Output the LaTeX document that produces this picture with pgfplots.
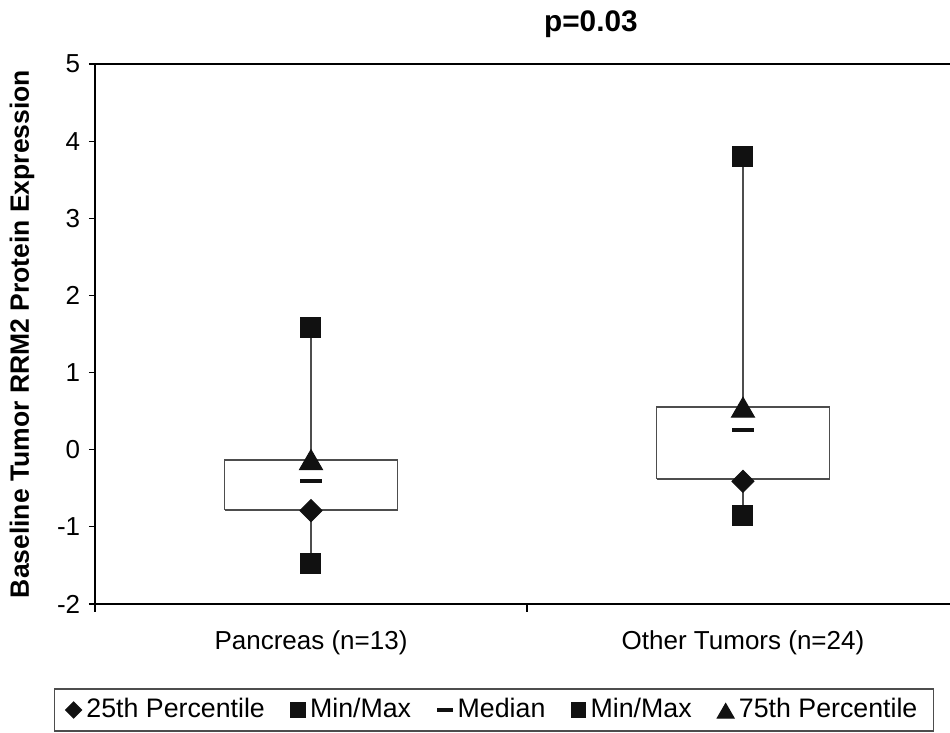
\documentclass[border=0pt]{standalone}
\usepackage{pgfplots}
\pgfplotsset{compat=1.18}
\usepackage{fontspec}
\setmainfont{Liberation Sans}
\definecolor{mk}{HTML}{111111}
\definecolor{boxc}{HTML}{4D4D4D}
\newcommand{\chartfont}{\fontsize{10.4}{12.5}\selectfont}
\begin{document}
\begin{tikzpicture}
\useasboundingbox (0,0) rectangle (380pt,293.2pt);
\begin{axis}[
 at={(38pt,51.6pt)}, anchor=south west,
 scale only axis, width=342pt, height=216pt,
 xmin=0, xmax=1.9792, ymin=-2, ymax=5,
 axis x line*=box, axis y line*=left,
 axis line style={line width=0.8pt, black},
 xtick={0.5,1.5}, xticklabels={Pancreas (n=13),Other Tumors (n=24)},
 minor xtick={0,1},
 major x tick style={draw=none},
 minor x tick style={line width=0.5pt, black},
 ytick={-2,-1,0,1,2,3,4,5},
 ytick style={line width=0.5pt, black},
 xtick pos=bottom, ytick pos=left,
 tick align=outside,
 major tick length=2.4pt, minor tick length=3.2pt,
 tick label style={font=\chartfont},
 /pgf/number format/assume math mode=true,
 xticklabel style={yshift=-4.8pt},
 ylabel={Baseline Tumor RRM2 Protein Expression},
 ylabel style={font=\fontsize{10.6}{12.5}\selectfont\bfseries, at={(axis description cs:-0.0854,0.5)}, anchor=center},
 title={p=0.03},
 every axis title shift=0pt,
 title style={font=\fontsize{11.9}{14}\selectfont\bfseries, at={(axis description cs:0.580,1.0593)}, anchor=base, yshift=0pt},
 legend columns=5,
 legend style={at={(axis description cs:0.4667,-0.1963)}, anchor=center, draw=boxc, line width=0.5pt, font=\fontsize{10.7}{12.8}\selectfont, inner xsep=4.5pt, inner ysep=1.8pt, /tikz/every even column/.append style={column sep=8.3pt}},
 legend image code/.code={\draw[#1,/tikz/every mark/.append style={scale=0.72}] plot coordinates {(0pt,0pt)};},
 clip=false,
]
% whiskers (min to max)
\addplot[forget plot, draw=boxc, line width=0.6pt] coordinates {(0.5,-1.47) (0.5,1.58)};
\addplot[forget plot, draw=boxc, line width=0.6pt] coordinates {(1.5,-0.85) (1.5,3.80)};
% boxes (25th to 75th percentile)
\addplot[forget plot, draw=boxc, fill=white, line width=0.7pt] coordinates {(0.3,-0.78) (0.7,-0.78) (0.7,-0.13) (0.3,-0.13) (0.3,-0.78)};
\addplot[forget plot, draw=boxc, fill=white, line width=0.7pt] coordinates {(1.3,-0.38) (1.7,-0.38) (1.7,0.55) (1.3,0.55) (1.3,-0.38)};
% markers
\addplot[only marks, mark=square*, mark size=3.1pt, mark options={rotate=45, fill=mk, draw=mk}] coordinates {(0.5,-0.79) (1.5,-0.41)};
\addlegendentry{25th Percentile}
\addplot[only marks, mark=square*, mark size=4pt, mark options={fill=mk, draw=mk}] coordinates {(0.5,-1.47) (1.5,-0.85)};
\addlegendentry{Min/Max}
\addplot[only marks, mark=-, mark size=4.4pt, mark options={draw=mk, line width=1.6pt}] coordinates {(0.5,-0.40) (1.5,0.25)};
\addlegendentry{Median}
\addplot[only marks, mark=square*, mark size=4pt, mark options={fill=mk, draw=mk}] coordinates {(0.5,1.58) (1.5,3.80)};
\addlegendentry{Min/Max}
\addplot[only marks, mark=triangle*, mark size=5.3pt, mark options={fill=mk, draw=mk, yshift=-1.3pt}] coordinates {(0.5,-0.13) (1.5,0.55)};
\addlegendentry{75th Percentile}
\end{axis}
\end{tikzpicture}
\end{document}
